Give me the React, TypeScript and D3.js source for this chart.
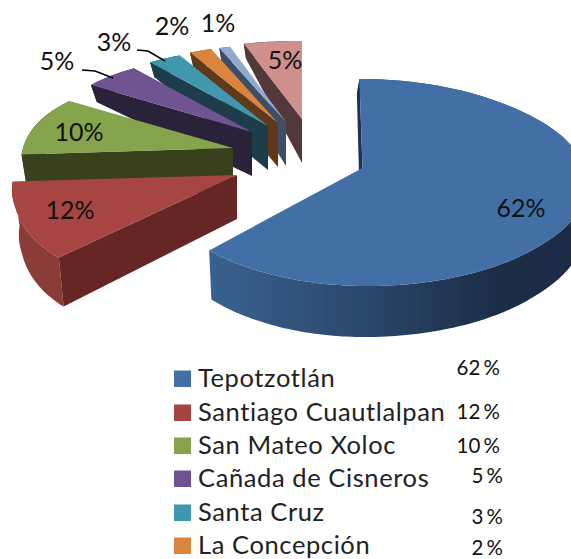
import React from "react";
import * as d3 from "d3";

const categories = ["Tepotzotlán", "Santiago Cuautlalpan", "San Mateo Xoloc", "Cañada de Cisneros", "Santa Cruz", "La Concepción", "Otros A", "Otros B"];
const values = [62, 12, 10, 5, 3, 2, 1, 5];
const legendPercents = ["62 %", "12 %", "10 %", "5 %", "3 %", "2 %"];
const topColors = ["#4270a6", "#a64442", "#86a44b", "#6f5391", "#3f97ae", "#db843d", "#93aad0", "#ce8f8d"];
const wallColors = ["#2d4a70", "#662827", "#37401f", "#2c2138", "#1a3d4a", "#60391a", "#3f4e66", "#53393a"];
const rimColors = ["url(#blueRim)", "#8b3a38", "#37401f", "#2c2138", "#1a3d4a", "#60391a", "#3f4e66", "#53393a"];

// Layout: apex of each exploded slice
const apexX = [362.5, 237, 233, 252, 268, 278, 286, 302];
const apexY = [168, 175, 148, 132, 126, 123, 122, 119];
const skew = [0.035, 0, 0, 0, 0, 0, 0, 0];
const lean = [-2.5, 0, 0, 0, 0, 0, 0, 0];
const farPower = [1, 2, 2, 2, 2, 2, 2, 2];
const xScale = [1, 1.14, 1, 1, 1, 1, 1, 1.04];
const xEdge = [20, -9.5, 5, 0, 0, 0, 0, 0];

const labelX = [521, 70, 79, 57, 114, 172, 218, 285];
const labelY = [217, 219, 141, 70, 51, 35, 32, 69];

const legendRowsY = [387, 421, 454, 487, 521, 554];
const legendPctX = [500, 500, 500, 503, 503, 503];
const legendPctY = [375, 419, 453, 483, 524, 555];

const leaders = [
  [[82, 70], [95, 71], [113, 78]],
  [[137, 50], [148, 51], [165, 61]],
];

const FONT = "Lato, 'Open Sans', sans-serif";
const pieGen = d3.pie<number>().sort(null).startAngle(0).endAngle(2 * Math.PI);
const arcs = pieGen(values);
const path = d3.line();

type P = [number, number];

function project(i: number, a: number, r: number): { top: P; bottom: P } {
  const X = Math.sin(a) * r;
  const Y = Math.cos(a) * r;
  const w = 1 + 0.14 * Y;
  const power = Y > 0 ? farPower[i] : 1;
  const t = Math.max(0, Math.min(1, (Math.abs(X) - 0.7) / 0.25));
  const B = X > 0 ? 218 + 4 * t : (205 + xEdge[i] * t) * xScale[i];
  const dx = (B * X) / w;
  const dy = (-101.5 * Y) / Math.pow(w, power);
  const x = apexX[i] + dx + skew[i] * dy;
  const y = apexY[i] + dy;
  const h = Y > 0 ? Math.max(15, 44 - 50 * Y) : 44 - 7 * Y;
  const bx = x + (X < 0 ? -7 * X : 0) + lean[i];
  return { top: [x, y], bottom: [bx, y + h] };
}

function angles(s: number, e: number): number[] {
  const n = Math.max(4, Math.ceil((e - s) / 0.02));
  return d3.range(n + 1).map((k) => s + ((e - s) * k) / n);
}

function Slice({ i }: { i: number }) {
  const { startAngle: s, endAngle: e } = arcs[i];
  const apex = project(i, s, 0);
  const rim = angles(s, e).map((a) => project(i, a, 1));
  const first = rim[0];
  const wallA: P[] = [apex.top, first.top, first.bottom, apex.bottom];
  const rimPoly: P[] = [...rim.map((p) => p.top), ...rim.map((p) => p.bottom).reverse()];
  const topPoly: P[] = [apex.top, ...rim.map((p) => p.top)];
  return (
    <g>
      <path d={path(rimPoly)! + "Z"} fill={rimColors[i]} />
      <path d={path(wallA)! + "Z"} fill={i === 0 ? "#1b3352" : wallColors[i]} />
      <path d={path(topPoly)! + "Z"} fill={topColors[i]} />
    </g>
  );
}

export default function App() {
  const order = d3.range(values.length).reverse();
  return (
    <svg width={571} height={559} viewBox="0 0 571 559" style={{ position: "absolute", left: 0, top: 0, display: "block", background: "#fff" }} fontFamily={FONT}>
      <defs>
        <linearGradient id="blueRim" gradientUnits="userSpaceOnUse" x1={205} x2={571} y1={0} y2={0}>
          <stop offset={0} stopColor="#3a6391" />
          <stop offset={0.45} stopColor="#2b466b" />
          <stop offset={0.8} stopColor="#1b2d46" />
          <stop offset={1} stopColor="#1b2c44" />
        </linearGradient>
        <filter id="soft" x="-5%" y="-5%" width="110%" height="110%">
          <feGaussianBlur stdDeviation={0.5} />
        </filter>
      </defs>
      <g filter="url(#soft)">
        {order.map((i) => (
          <Slice key={categories[i]} i={i} />
        ))}
      </g>
      <g filter="url(#soft)" fill="none" stroke="#000" strokeWidth={1.6}>
        {leaders.map((l, k) => (
          <path key={k} d={path(l as P[])!} />
        ))}
      </g>
      <g fontSize={25} fill="#111" textAnchor="middle">
        {values.map((v, i) => (
          <text key={i} x={labelX[i]} y={labelY[i]}>{`${v}%`}</text>
        ))}
      </g>
      <g>
        {legendPercents.map((t, i) => {
          const y = legendRowsY[i];
          return (
            <g key={t + i}>
              <rect x={174} y={y - 16.5} width={17} height={16.5} fill={topColors[i]} />
              <text x={198} y={y} fontSize={25.5} letterSpacing={0.6} fill="#222">
                {categories[i]}
              </text>
              <text x={legendPctX[i]} y={legendPctY[i]} fontSize={20.5} wordSpacing={-2} fill="#111" textAnchor="end">
                {t}
              </text>
            </g>
          );
        })}
      </g>
    </svg>
  );
}
